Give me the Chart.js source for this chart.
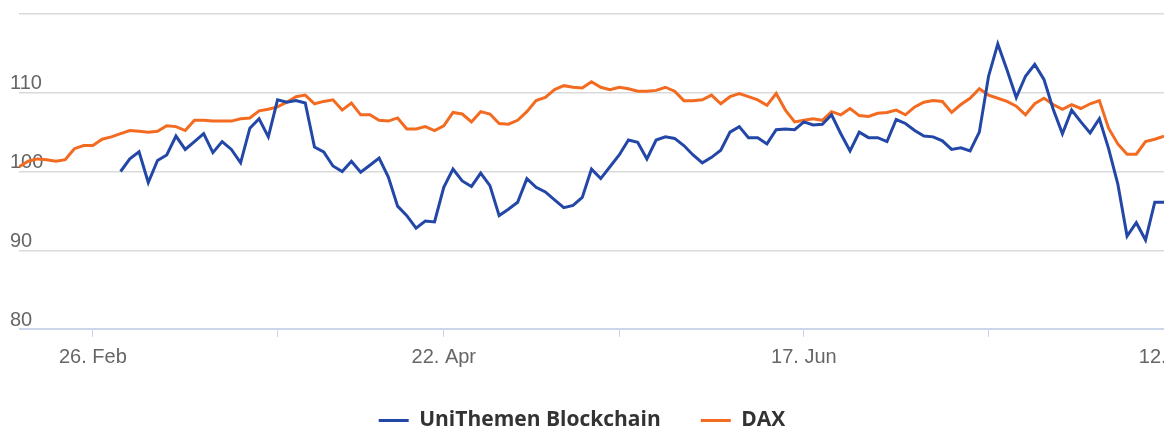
<!DOCTYPE html>
<html>
<head>
<meta charset="utf-8">
<script src="https://cdn.jsdelivr.net/npm/chart.js@4"></script>
<style>
  html, body { margin: 0; padding: 0; background: #fff; }
  #wrap { width: 1164px; height: 433px; overflow: hidden; }
</style>
</head>
<body>
<div id="wrap"><canvas id="c" width="1164" height="433"></canvas></div>
<script>
// Trading days (categories)
const categories = [
  '2024-02-14','2024-02-15','2024-02-16','2024-02-19','2024-02-20','2024-02-21','2024-02-22','2024-02-23','2024-02-26','2024-02-27','2024-02-28','2024-02-29',
  '2024-03-01','2024-03-04','2024-03-05','2024-03-06','2024-03-07','2024-03-08','2024-03-11','2024-03-12','2024-03-13','2024-03-14','2024-03-15','2024-03-18','2024-03-19','2024-03-20','2024-03-21','2024-03-22','2024-03-25','2024-03-26','2024-03-27','2024-03-28',
  '2024-04-02','2024-04-03','2024-04-04','2024-04-05','2024-04-08','2024-04-09','2024-04-10','2024-04-11','2024-04-12','2024-04-15','2024-04-16','2024-04-17','2024-04-18','2024-04-19','2024-04-22','2024-04-23','2024-04-24','2024-04-25','2024-04-26','2024-04-29','2024-04-30',
  '2024-05-02','2024-05-03','2024-05-06','2024-05-07','2024-05-08','2024-05-09','2024-05-10','2024-05-13','2024-05-14','2024-05-15','2024-05-16','2024-05-17','2024-05-20','2024-05-21','2024-05-22','2024-05-23','2024-05-24','2024-05-27','2024-05-28','2024-05-29','2024-05-30','2024-05-31',
  '2024-06-03','2024-06-04','2024-06-05','2024-06-06','2024-06-07','2024-06-10','2024-06-11','2024-06-12','2024-06-13','2024-06-14','2024-06-17','2024-06-18','2024-06-19','2024-06-20','2024-06-21','2024-06-24','2024-06-25','2024-06-26','2024-06-27','2024-06-28',
  '2024-07-01','2024-07-02','2024-07-03','2024-07-04','2024-07-05','2024-07-08','2024-07-09','2024-07-10','2024-07-11','2024-07-12','2024-07-15','2024-07-16','2024-07-17','2024-07-18','2024-07-19','2024-07-22','2024-07-23','2024-07-24','2024-07-25','2024-07-26','2024-07-29','2024-07-30','2024-07-31',
  '2024-08-01','2024-08-02','2024-08-05','2024-08-06','2024-08-07','2024-08-08','2024-08-09','2024-08-12'
];

const seriesNames = ['UniThemen Blockchain', 'DAX'];

const blockchain = [
  null,null,null,null,null,null,null,null,null,null,null,
  100.0,101.6,102.5,98.6,101.4,102.1,104.5,102.8,103.8,
  104.8,102.4,103.8,102.8,101.1,105.5,106.7,104.4,109.1,108.8,
  109.0,108.7,103.1,102.5,100.7,100.0,101.3,99.9,100.8,101.7,
  99.3,95.6,94.4,92.8,93.7,93.6,98.0,100.3,98.8,98.1,
  99.8,98.2,94.4,95.2,96.1,99.1,98.0,97.4,96.4,95.4,
  95.7,96.7,100.3,99.1,100.6,102.1,104.0,103.7,101.6,104.0,
  104.4,104.2,103.3,102.1,101.1,101.8,102.7,105.0,105.7,104.3,
  104.3,103.5,105.3,105.4,105.3,106.3,105.9,106.0,107.2,104.8,
  102.6,105.0,104.3,104.3,103.8,106.6,106.1,105.2,104.5,104.4,
  103.9,102.8,103.0,102.6,105.0,112.1,116.2,112.9,109.4,112.1,
  113.6,111.7,107.9,104.8,107.8,106.3,104.9,106.7,102.9,98.4,
  91.8,93.5,91.3,96.1,96.1
];

const dax = [
  100.6,101.3,101.6,101.5,101.3,101.5,102.9,103.3,103.3,104.1,
  104.4,104.8,105.2,105.1,105.0,105.1,105.8,105.7,105.2,106.5,
  106.5,106.4,106.4,106.4,106.7,106.8,107.7,107.9,108.2,108.8,
  109.5,109.7,108.6,108.9,109.1,107.8,108.7,107.2,107.2,106.5,
  106.4,106.8,105.4,105.4,105.7,105.2,105.8,107.5,107.3,106.3,
  107.6,107.3,106.1,106.0,106.5,107.6,109.0,109.4,110.4,110.9,
  110.7,110.6,111.4,110.7,110.4,110.7,110.5,110.2,110.2,110.3,
  110.7,110.2,109.0,109.0,109.1,109.7,108.6,109.5,109.9,109.5,
  109.1,108.4,109.9,107.8,106.3,106.5,106.7,106.5,107.6,107.2,
  108.0,107.1,107.0,107.4,107.5,107.8,107.2,108.2,108.8,109.0,
  108.9,107.5,108.5,109.3,110.5,109.7,109.3,108.9,108.3,107.2,
  108.6,109.3,108.5,107.9,108.5,108.0,108.6,109.0,105.5,103.5,
  102.2,102.2,103.8,104.1,104.5
];

const tickDates  = ['2024-02-26','2024-03-25','2024-04-22','2024-05-20','2024-06-17','2024-07-15','2024-08-12'];
const tickLabels = ['26. Feb','','22. Apr','','17. Jun','','12. Aug'];

const yTicks  = [80, 90, 100, 110, 120];
const yLabels = ['80', '90', '100', '110', ''];

const colors = ['#2347a7', '#f36b21'];

const toPoints = arr => arr.map((v, i) => ({ x: i, y: v }));

const axisFont = { family: "'Liberation Sans', Arial, sans-serif", size: 20 };

new Chart(document.getElementById('c'), {
  type: 'line',
  data: {
    datasets: [
      { label: seriesNames[0], data: toPoints(blockchain), borderColor: colors[0], backgroundColor: colors[0],
        borderWidth: 3, pointRadius: 0, pointHoverRadius: 0, tension: 0 },
      { label: seriesNames[1], data: toPoints(dax), borderColor: colors[1], backgroundColor: colors[1],
        borderWidth: 3, pointRadius: 0, pointHoverRadius: 0, tension: 0 }
    ]
  },
  options: {
    responsive: false,
    animation: false,
    devicePixelRatio: 1,
    layout: { padding: { left: 0, top: 14, right: 0, bottom: -8 } },
    plugins: {
      tooltip: { enabled: false },
      legend: {
        position: 'bottom',
        labels: {
          boxWidth: 30,
          boxHeight: 3,
          padding: 40,
          color: '#333',
          font: { family: "'Open Sans', sans-serif", size: 21, weight: 'bold' },
          generateLabels: chart => Chart.defaults.plugins.legend.labels.generateLabels(chart)
            .map(l => Object.assign(l, { lineWidth: 0, fillStyle: l.strokeStyle }))
        }
      }
    },
    scales: {
      x: {
        type: 'linear',
        min: 0,
        max: dax.length - 1,
        afterBuildTicks: s => { s.ticks = tickDates.map(d => ({ value: categories.indexOf(d) })); },
        afterFit: s => { s.paddingLeft = 0; s.paddingRight = 0; s.height = 41; },
        ticks: {
          autoSkip: false,
          maxRotation: 0,
          padding: 8,
          color: '#666',
          font: axisFont,
          callback: v => tickLabels[tickDates.indexOf(categories[v])]
        },
        grid: { drawOnChartArea: false, drawTicks: true, tickLength: 8, tickColor: '#ccd6eb', color: '#ccd6eb' },
        border: { display: true, color: '#ccd6eb', width: 1 }
      },
      y: {
        min: 80,
        max: 120,
        afterBuildTicks: s => { s.ticks = yTicks.map(v => ({ value: v })); },
        afterFit: s => { s.width = 19; s.paddingTop = 0; s.paddingBottom = 0; },
        ticks: {
          mirror: true,
          padding: -9,
          labelOffset: -9,
          color: '#666',
          font: axisFont,
          callback: v => yLabels[yTicks.indexOf(v)]
        },
        grid: {
          drawTicks: false,
          lineWidth: 1.5,
          color: ctx => (ctx.tick && ctx.tick.value === 80) ? '#ccd6eb' : '#dadada'
        },
        border: { display: false }
      }
    }
  }
});
</script>
</body>
</html>
